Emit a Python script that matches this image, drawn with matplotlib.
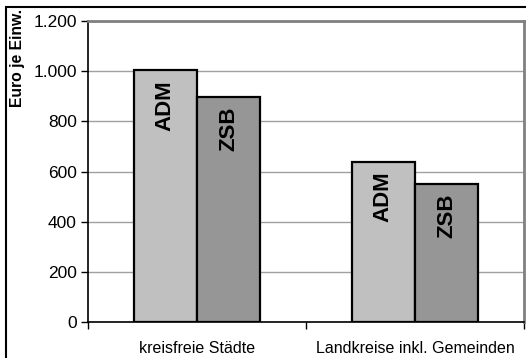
import matplotlib.pyplot as plt
import numpy as np
from matplotlib.patches import Rectangle
from matplotlib.ticker import FuncFormatter

plt.rcParams['font.family'] = ['Liberation Sans', 'DejaVu Sans']

# data
categories = ["kreisfreie Städte", "Landkreise inkl. Gemeinden"]
series = ["ADM", "ZSB"]
adm = [1003, 639]
zsb = [899, 551]
colors = ["#c0c0c0", "#969696"]

fig = plt.figure(figsize=(5.26, 3.58), dpi=100)
W, H = 526, 358
ax = fig.add_axes([88 / W, 1 - 322 / H, 436 / W, 301 / H])

x = np.arange(len(categories))
bw = 0.29
for i, (name, vals) in enumerate(zip(series, [adm, zsb])):
    pos = x + (i - 0.5) * bw
    ax.bar(pos, vals, width=bw, color=colors[i], edgecolor="black",
           linewidth=1.6, zorder=3)
    for px, v in zip(pos, vals):
        ax.annotate(name, (px, v), xytext=(0, -7), textcoords="offset points",
                    rotation=90, ha="center", va="top", fontsize=16,
                    fontweight="bold", zorder=4)

ax.set_xlim(-0.5, 1.5)
ax.set_ylim(0, 1200)
ax.set_yticks(range(0, 1201, 200))
ax.yaxis.set_major_formatter(FuncFormatter(lambda v, p: f"{int(v):,}".replace(",", ".")))
ax.grid(axis="y", color="#a0a0a0", linewidth=1, zorder=0)

# category labels between boundary ticks
ax.set_xticks([-0.5, 0.5, 1.5])
ax.set_xticklabels([])
ax.set_xticks(x, minor=True)
ax.set_xticklabels(categories, minor=True, fontsize=11.5)
ax.tick_params(axis="x", which="minor", length=0, pad=14)
ax.tick_params(axis="x", which="major", length=5, width=1, direction="out")
ax.tick_params(axis="y", length=5, width=1, labelsize=12.5, pad=3)

for s in ["left", "bottom"]:
    ax.spines[s].set_color("black")
    ax.spines[s].set_linewidth(1.2)
for s in ["top", "right"]:
    ax.spines[s].set_color("#808080")
    ax.spines[s].set_linewidth(2)

fig.text(18 / W, 1 - 9 / H, "Euro je Einw.", rotation=90, ha="center",
         va="top", fontsize=11.3, fontweight="bold")

# outer chart frame (cropped at right and bottom)
fig.patches.append(Rectangle((6 / W, -0.1), 1.2, 1 - 7 / H + 0.1,
                             transform=fig.transFigure, fill=False,
                             edgecolor="black", linewidth=1.5))

fig.savefig("out.png", dpi=100)
